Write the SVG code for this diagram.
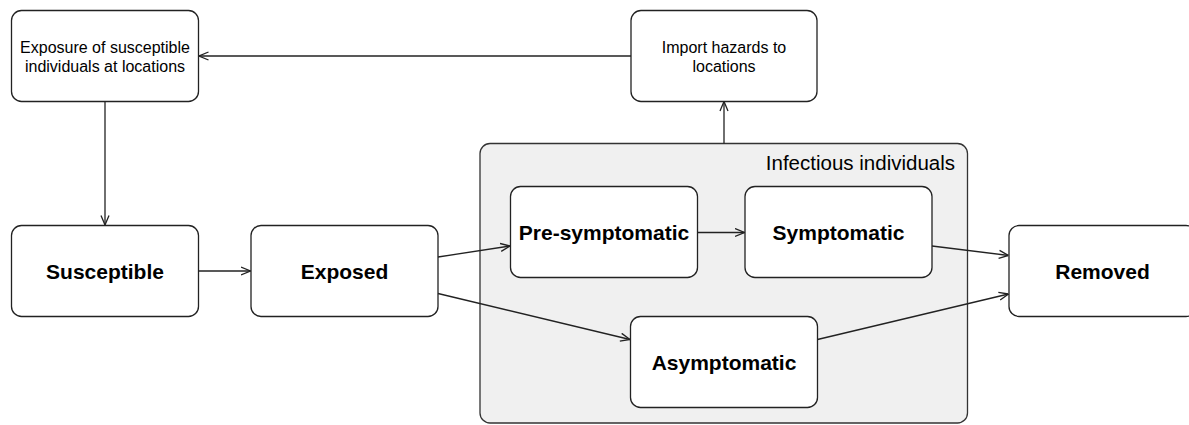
<svg xmlns="http://www.w3.org/2000/svg" width="1189" height="425" viewBox="0 0 1189 425">
<defs>
<style>
.box{fill:#fff;stroke:#222;stroke-width:1.3}
.group{fill:#f0f0f0;stroke:#333;stroke-width:1.3}
.t{font-family:"Liberation Sans",Arial,Helvetica,sans-serif;fill:#000}
.r{font-size:16px}
.b{font-size:21px;font-weight:bold}
.conn{fill:none;stroke:#222;stroke-width:1.3}
</style>
<marker id="arr" viewBox="0 0 10 10" refX="10" refY="5" markerWidth="10" markerHeight="10" markerUnits="userSpaceOnUse" orient="auto">
<path d="M0.5,1 L10,5 L0.5,9" fill="none" stroke="#222" stroke-width="1.3"/>
</marker>
</defs>
<rect width="1189" height="425" fill="#fff"/>
<g id="infectious">
<rect class="group" x="480" y="143.5" width="487.5" height="279.5" rx="10"/>
<text class="t" x="955" y="170" text-anchor="end" style="font-size:20.5px">Infectious individuals</text>
</g>
<g id="exposure">
<rect class="box" x="11.5" y="10.5" width="187" height="91" rx="10"/>
<text class="t r" x="105" y="53" text-anchor="middle">Exposure of susceptible</text>
<text class="t r" x="105" y="72" text-anchor="middle">individuals at locations</text>
</g>
<g id="import">
<rect class="box" x="631" y="10.5" width="186" height="91" rx="10"/>
<text class="t r" x="724" y="53" text-anchor="middle">Import hazards to</text>
<text class="t r" x="724" y="72" text-anchor="middle">locations</text>
</g>
<g id="susceptible">
<rect class="box" x="11.5" y="225.5" width="187" height="91" rx="10"/>
<text class="t b" x="105" y="278.5" text-anchor="middle">Susceptible</text>
</g>
<g id="exposed">
<rect class="box" x="251" y="225.5" width="187" height="91" rx="10"/>
<text class="t b" x="344.5" y="278.5" text-anchor="middle">Exposed</text>
</g>
<g id="presymptomatic">
<rect class="box" x="510.5" y="186.5" width="187" height="91" rx="10"/>
<text class="t b" x="604" y="239.5" text-anchor="middle">Pre-symptomatic</text>
</g>
<g id="symptomatic">
<rect class="box" x="745" y="186.5" width="187" height="91" rx="10"/>
<text class="t b" x="838.5" y="239.5" text-anchor="middle">Symptomatic</text>
</g>
<g id="asymptomatic">
<rect class="box" x="630.5" y="316.5" width="187" height="91" rx="10"/>
<text class="t b" x="724" y="369.5" text-anchor="middle">Asymptomatic</text>
</g>
<g id="removed">
<rect class="box" x="1009" y="225.5" width="187" height="91" rx="10"/>
<text class="t b" x="1102.5" y="278.5" text-anchor="middle">Removed</text>
</g>
<g id="connectors">
<line class="conn" x1="631" y1="56" x2="199" y2="56" marker-end="url(#arr)"/>
<line class="conn" x1="724" y1="143.5" x2="724" y2="101.5" marker-end="url(#arr)"/>
<line class="conn" x1="105" y1="101.5" x2="105" y2="225" marker-end="url(#arr)"/>
<line class="conn" x1="198.5" y1="271" x2="250.5" y2="271" marker-end="url(#arr)"/>
<line class="conn" x1="438" y1="257" x2="510" y2="246" marker-end="url(#arr)"/>
<line class="conn" x1="697.5" y1="232.5" x2="744.5" y2="232.5" marker-end="url(#arr)"/>
<line class="conn" x1="932" y1="246" x2="1008.5" y2="255.5" marker-end="url(#arr)"/>
<line class="conn" x1="438" y1="293.5" x2="630" y2="339.5" marker-end="url(#arr)"/>
<line class="conn" x1="817.5" y1="339.5" x2="1008.5" y2="294" marker-end="url(#arr)"/>
</g>
</svg>
